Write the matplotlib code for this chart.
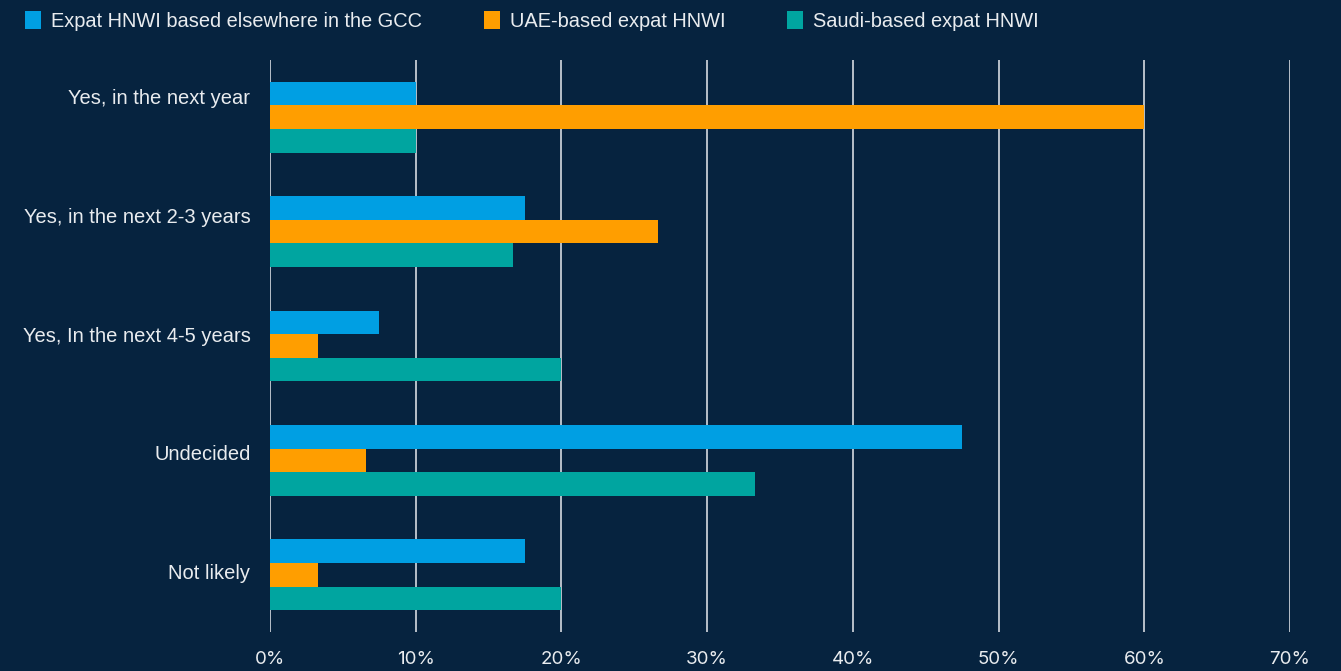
import matplotlib
matplotlib.use("Agg")
import matplotlib.pyplot as plt
import numpy as np
from matplotlib.patches import Patch

# Survey answers (share of respondents, %)
categories = ["Yes, in the next year", "Yes, in the next 2-3 years",
              "Yes, In the next 4-5 years", "Undecided", "Not likely"]
series_names = ["Expat HNWI based elsewhere in the GCC",
                "UAE-based expat HNWI",
                "Saudi-based expat HNWI"]
gcc_vals = [10.0, 17.5, 7.5, 47.5, 17.5]
uae_vals = [60.0, 26.6, 3.3, 6.6, 3.3]
saudi_vals = [10.0, 16.7, 20.0, 33.3, 20.0]
xtick_vals = [0, 10, 20, 30, 40, 50, 60, 70]

colors = ["#009fe3", "#ff9e00", "#00a5a0"]
bg = "#06233f"
txt = "#e9ecef"

plt.rcParams["font.family"] = ["Liberation Sans", "DejaVu Sans"]

fig = plt.figure(figsize=(13.41, 6.71), dpi=100, facecolor=bg)
ax = fig.add_axes([0.2013, 0.0581, 0.7607, 0.8525])
ax.set_facecolor(bg)

y = np.arange(len(categories))
h = 0.206
for i, vals in enumerate([gcc_vals, uae_vals, saudi_vals]):
    ax.barh(y + (i - 1) * h, vals, height=h, color=colors[i], zorder=3)

ax.set_xlim(0, 70)
ax.set_ylim(len(categories) - 0.5, -0.5)
ax.set_xticks(xtick_vals)
ax.set_xticklabels([f"{v}%" for v in xtick_vals], color=txt, fontsize=13.5,
                   fontfamily="Inter")
ax.tick_params(axis="x", length=0, pad=14)

# labels sit a bit above the group centre
label_pos = y - 0.18 + 0.038 * y
ax.set_yticks(label_pos)
ax.set_yticklabels(categories, color=txt, fontsize=14.5)
ax.tick_params(axis="y", length=0, pad=14)

ax.grid(axis="x", color="#c5ccd4", linewidth=1.3, zorder=1)
ax.grid(axis="y", visible=False)
for s in ax.spines.values():
    s.set_visible(False)

handles = [Patch(facecolor=c, edgecolor="none") for c in colors]
fig.legend(handles, series_names, loc="upper left", bbox_to_anchor=(0.005, 1.01),
           ncol=3, frameon=False, fontsize=14.4, labelcolor=txt,
           handlelength=0.8, handleheight=1.0, handletextpad=0.5,
           columnspacing=3.1)

fig.savefig("out.png", dpi=100, facecolor=bg)
